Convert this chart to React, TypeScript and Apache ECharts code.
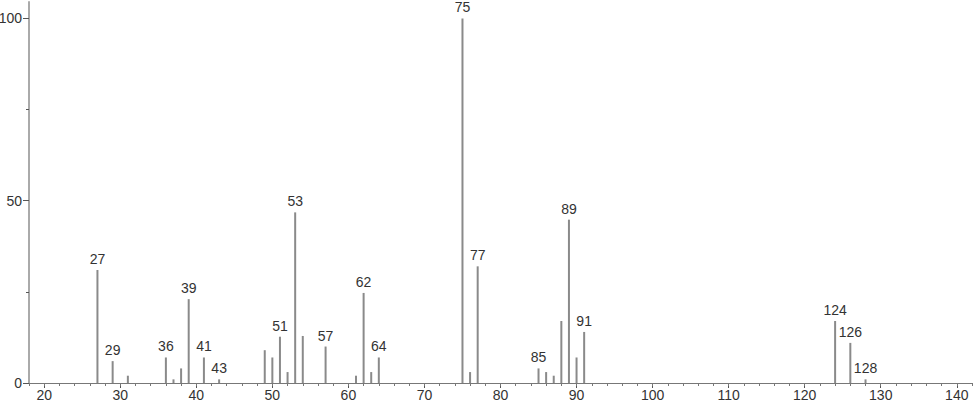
import React, { useEffect, useRef } from "react";
import * as echarts from "echarts";

const mz = [27, 29, 31, 36, 37, 38, 39, 41, 43, 49, 50, 51, 52, 53, 54, 57, 61, 62, 63, 64, 75, 76, 77, 85, 86, 87, 88, 89, 90, 91, 124, 126, 128];
const intensity = [31, 6, 2, 7, 1, 4, 23, 7, 1, 9, 7, 12.7, 3, 46.8, 12.9, 10, 2, 24.7, 3, 7, 100, 3, 32, 4, 3, 2, 17, 44.8, 7, 14, 17, 11, 1];
const labeledPeaks = [27, 29, 36, 39, 41, 43, 51, 53, 57, 62, 64, 75, 77, 85, 89, 91, 124, 126, 128];
const xMajorTicks = [20, 30, 40, 50, 60, 70, 80, 90, 100, 110, 120, 130, 140];
const yMajorTicks = [0, 50, 100];
const yMinorTicks = [25, 75];

const FONT = "'Liberation Sans', 'DejaVu Sans', sans-serif";

export default function App() {
  const ref = useRef<HTMLDivElement>(null);
  useEffect(() => {
    if (!ref.current) return;
    const chart = echarts.init(ref.current, null, { renderer: "svg" });
    const data = mz.map((m, i) => ({
      value: [m, intensity[i]],
      label: { show: labeledPeaks.includes(m) },
    }));
    chart.setOption({
      animation: false,
      backgroundColor: "#fff",
      grid: { left: 29, right: 2, top: 2, bottom: 23, containLabel: false, outerBoundsMode: "none" },
      xAxis: [
        {
          type: "value",
          min: 18,
          max: 142,
          interval: 2,
          axisLine: { show: true, lineStyle: { color: "#777", width: 1 } },
          axisTick: { show: true, customValues: xMajorTicks, length: 5, lineStyle: { color: "#555" } },
          axisLabel: { customValues: xMajorTicks, color: "#333", fontSize: 14, fontFamily: FONT, margin: 5 },
          splitLine: { show: false },
        },
        {
          type: "value",
          position: "bottom",
          min: 18,
          max: 142,
          interval: 2,
          axisLine: { show: false },
          axisTick: { show: true, length: 3, lineStyle: { color: "#777" } },
          axisLabel: { show: false },
          splitLine: { show: false },
        },
      ],
      yAxis: [
        {
          type: "value",
          min: 0,
          max: 104.5,
          axisLine: { show: true, lineStyle: { color: "#aaa", width: 2 } },
          axisTick: { show: true, customValues: yMajorTicks, length: 6, lineStyle: { color: "#555" } },
          axisLabel: { customValues: yMajorTicks, color: "#333", fontSize: 14, fontFamily: FONT, margin: 7 },
          splitLine: { show: false },
        },
        {
          type: "value",
          position: "left",
          min: 0,
          max: 104.5,
          axisLine: { show: false },
          axisTick: { show: true, customValues: yMinorTicks, length: 3, lineStyle: { color: "#555" } },
          axisLabel: { show: false },
          splitLine: { show: false },
        },
      ],
      series: [
        {
          type: "bar",
          xAxisIndex: 0,
          yAxisIndex: 0,
          barWidth: 2,
          itemStyle: { color: "#8a8a8a" },
          label: {
            position: "top",
            distance: 4,
            color: "#333",
            fontSize: 14,
            fontFamily: FONT,
            formatter: (p: any) => String(p.value[0]),
          },
          data,
        },
      ],
    });
    return () => chart.dispose();
  }, []);
  return (
    <div
      ref={ref}
      style={{ position: "absolute", left: 0, top: 0, width: 974, height: 406, background: "#fff" }}
    />
  );
}
